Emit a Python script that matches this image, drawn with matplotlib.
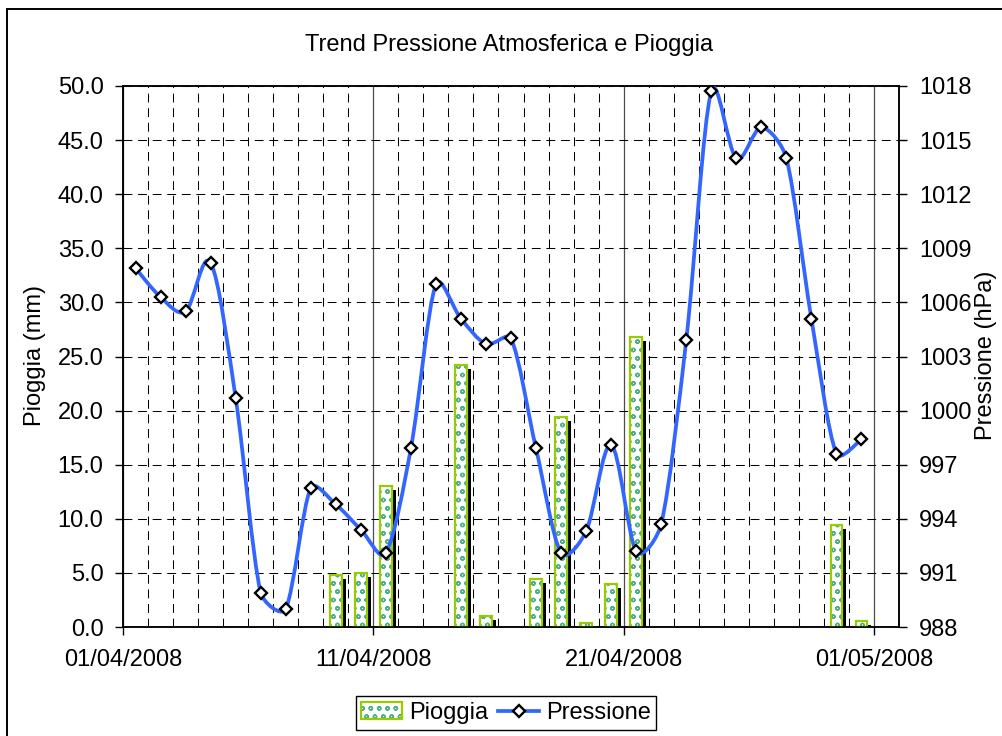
import numpy as np
import matplotlib.pyplot as plt
from matplotlib.path import Path
from matplotlib.patches import PathPatch, Patch, Rectangle
from matplotlib.lines import Line2D
from matplotlib.legend_handler import HandlerTuple
from matplotlib.ticker import FormatStrFormatter, MultipleLocator, FixedLocator
from matplotlib.transforms import offset_copy, ScaledTranslation

plt.rcParams['font.family'] = ['Liberation Sans', 'DejaVu Sans']
plt.rcParams['font.size'] = 17
plt.rcParams['hatch.linewidth'] = 1.0

# daily values, 01/04/2008 .. 30/04/2008
pressione = [1007.9, 1006.3, 1005.5, 1008.2, 1000.7, 989.9, 989.0, 995.7, 994.8, 993.4,
             992.1, 997.9, 1007.0, 1005.1, 1003.7, 1004.0, 997.9, 992.1, 993.3, 998.1,
             992.2, 993.7, 1003.9, 1017.7, 1014.0, 1015.7, 1014.0, 1005.1, 997.6, 998.4]
pioggia = [0, 0, 0, 0, 0, 0, 0, 0, 4.8, 5.0,
           13.0, 0, 0, 24.2, 1.0, 0, 4.4, 19.4, 0.4, 4.0,
           26.8, 0, 0, 0, 0, 0, 0, 0, 9.4, 0.6]
date_labels = ['01/04/2008', '11/04/2008', '21/04/2008', '01/05/2008']
p_ticks = np.arange(988, 1019, 3)

BLUE = '#3366FF'
LIME = '#99CC00'
TEAL = '#4FAF86'

p = np.array(pressione)
r = np.array(pioggia)
xc = np.arange(len(p)) + 0.5          # category centres
wet = r > 0

fig = plt.figure(figsize=(10.02, 7.36), dpi=100)
ax = fig.add_axes([123/1002, 1 - 627/736, 776/1002, 541/736])
ax2 = ax.twinx()
ax.set_xlim(0, 31)
ax.set_ylim(0, 50)
ax2.set_ylim(988, 1018)

# rain bars: black drop shadow, hatched body, lime border
shadow = offset_copy(ax.transData, fig=fig, x=4, y=-4, units='dots')
ax.bar(xc[wet], r[wet], width=0.46, color='black', lw=0, transform=shadow, zorder=2)
ax.bar(xc[wet], r[wet], width=0.46, facecolor='white', edgecolor=TEAL, hatch='oo',
       lw=0, zorder=3)
ax.bar(xc[wet], r[wet], width=0.46, facecolor='none', edgecolor=LIME, lw=1.6, zorder=4)

# smoothed pressure line: bezier through the points (Excel-like smoothing),
# control arms = |P[i+1]-P[i-1]|/6, limited to a third of the segment, in pixel space
sx, sy = 25.0, 541 / 30               # px per day, px per hPa
S = np.column_stack([xc * sx, p * sy])
Se = np.vstack([S[0], S, S[-1]])
span = Se[2:] - Se[:-2]
slen = np.linalg.norm(span, axis=1)
tang = span / slen[:, None]
verts = [S[0]]
codes = [Path.MOVETO]
for i in range(len(S) - 1):
    d = np.linalg.norm(S[i + 1] - S[i]) / 3
    a0 = min(slen[i] / 6, d)
    a1 = min(slen[i + 1] / 6, d)
    verts += [S[i] + tang[i] * a0, S[i + 1] - tang[i + 1] * a1, S[i + 1]]
    codes += [Path.CURVE4] * 3
verts = np.array(verts) / [sx, sy]
ax2.add_patch(PathPatch(Path(verts, codes), facecolor='none', edgecolor=BLUE, lw=2.7,
                        capstyle='round', joinstyle='round', zorder=3))
ax2.plot(xc, p, ls='none', marker='D', ms=6, mfc='white', mec='black', mew=1.7, zorder=4)

# axes
ax.yaxis.set_major_locator(MultipleLocator(5))
ax.yaxis.set_major_formatter(FormatStrFormatter('%.1f'))
ax2.yaxis.set_major_locator(FixedLocator(p_ticks))

ax.xaxis.set_major_locator(FixedLocator([0, 10, 20, 30]))
ax.xaxis.set_minor_locator(MultipleLocator(1))
ax.set_xticklabels(date_labels)
half_day = ScaledTranslation(12.5 / 100, 0, fig.dpi_scale_trans)
for lab in ax.get_xticklabels():
    lab.set_transform(lab.get_transform() + half_day)

dash = (0, (8.5, 5.5))
ax.set_axisbelow(True)
ax.grid(which='major', axis='y', color='black', lw=0.75, ls=dash)
ax.grid(which='minor', axis='x', color='black', lw=0.75, ls=dash)
ax.grid(which='major', axis='x', color='0.3', lw=0.9, ls='-')

ax.tick_params(axis='x', which='major', direction='out', length=6, width=1, pad=10)
ax.tick_params(axis='x', which='minor', length=0)
ax.tick_params(axis='y', direction='out', length=6, width=1, pad=8)
ax2.tick_params(axis='y', direction='out', length=6, width=1, pad=8.5)
for a in (ax, ax2):
    for s in a.spines.values():
        s.set_color('black')
        s.set_linewidth(1.1)

fig.text(509/1002, 1 - 45/736, 'Trend Pressione Atmosferica e Pioggia',
         ha='center', va='center')
fig.text(35/1002, 1 - 355/736, 'Pioggia (mm)', rotation=90, ha='center', va='center')
fig.text(986/1002, 1 - 355/736, 'Pressione (hPa)', rotation=90, ha='center', va='center')

h_rain = (Patch(facecolor='white', edgecolor=TEAL, hatch='oo', lw=0),
          Patch(facecolor='none', edgecolor=LIME, lw=1.6))
h_pres = Line2D([], [], color=BLUE, lw=2.7, marker='D', ms=6, mfc='white',
                mec='black', mew=1.7)
leg = fig.legend([h_rain, h_pres], ['Pioggia', 'Pressione'], ncol=2, loc='center',
                 bbox_to_anchor=(506/1002, 1 - 713/736),
                 handler_map={tuple: HandlerTuple(ndivide=1)},
                 handlelength=1.7, handletextpad=0.3, columnspacing=0.45,
                 borderpad=0.25, fancybox=False, framealpha=1)
leg.get_frame().set_edgecolor('black')
leg.get_frame().set_linewidth(1.0)

# outer chart frame
fig.add_artist(Rectangle((7/1002, -0.05), 1.05, 1 - 9/736 + 0.05, transform=fig.transFigure,
                         fill=False, edgecolor='black', lw=1.4))

fig.savefig('out.png', dpi=100)
plt.close(fig)
